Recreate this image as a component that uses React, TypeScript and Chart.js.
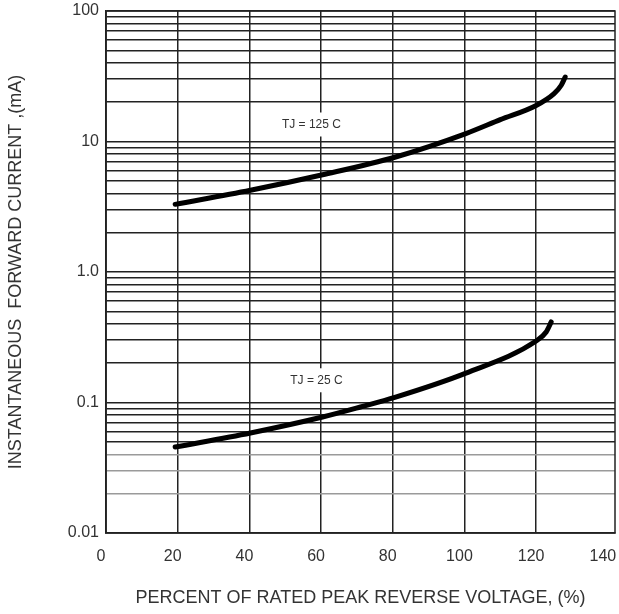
import React, { useEffect, useRef } from 'react';
import { Chart, registerables } from 'chart.js';

Chart.register(...registerables);

// ---- data ----
const xTickValues = [0, 20, 40, 60, 80, 100, 120, 140];
const yMajorValues = [0.01, 0.1, 1, 10, 100];
const yMajorLabels = ['0.01', '0.1', '1.0', '10', '100'];
const yMinorMultipliers = [2, 3, 4, 5, 6, 7, 8, 9];

// TJ = 125 C curve
const x125 = [19.3, 40.3, 60.4, 80.8, 100.4, 110, 120, 125, 127, 128.1];
const y125 = [3.3, 4.23, 5.56, 7.61, 11.5, 14.7, 18.9, 23.3, 27.0, 31.2];

// TJ = 25 C curve
const x25 = [19.3, 40.3, 60.4, 71, 80.8, 100.4, 120, 122.8, 124.2];
const y25 = [0.0456, 0.0584, 0.0774, 0.0924, 0.11, 0.168, 0.296, 0.347, 0.414];

const noteTexts = ['TJ = 125 C', 'TJ = 25 C'];
const noteX = [57.3, 58.7];
const noteY = [13.5, 0.148];

const xTitle = 'PERCENT OF RATED PEAK REVERSE VOLTAGE, (%)';
const yTitle = 'INSTANTANEOUS  FORWARD CURRENT ,(mA)';

const FONT = '"Liberation Sans", Arial, sans-serif';

const yGridValues: number[] = [];
yMajorValues.forEach((d, i) => {
  yGridValues.push(d);
  if (i < yMajorValues.length - 1) yMinorMultipliers.forEach((m) => yGridValues.push(d * m));
});

const framePlugin = {
  id: 'frameAndNotes',
  beforeDatasetsDraw(chart: any) {
    const { ctx, chartArea: a } = chart;
    ctx.save();
    ctx.strokeStyle = '#222';
    ctx.lineWidth = 1.5;
    ctx.strokeRect(a.left, a.top, a.right - a.left, a.bottom - a.top);
    ctx.restore();
  },
  afterDatasetsDraw(chart: any) {
    const { ctx } = chart;
    const xs = chart.scales.x;
    const ys = chart.scales.y;
    ctx.save();
    ctx.font = `12px ${FONT}`;
    ctx.textAlign = 'center';
    ctx.textBaseline = 'middle';
    noteTexts.forEach((t, i) => {
      const px = xs.getPixelForValue(noteX[i]);
      const py = ys.getPixelForValue(noteY[i]);
      const w = ctx.measureText(t).width + 10;
      ctx.fillStyle = '#fff';
      ctx.fillRect(px - w / 2, py - 12, w, 24);
      ctx.fillStyle = '#333';
      ctx.fillText(t, px, py);
    });
    ctx.restore();
  },
};

export default function App() {
  const ref = useRef<HTMLCanvasElement | null>(null);

  useEffect(() => {
    if (!ref.current) return;
    const chart = new Chart(ref.current, {
      type: 'line',
      data: {
        datasets: [
          {
            label: 'TJ = 125 C',
            data: x125.map((x, i) => ({ x, y: y125[i] })),
            borderColor: '#000',
            borderWidth: 5,
            pointRadius: 0,
            cubicInterpolationMode: 'monotone',
            borderCapStyle: 'round',
            borderJoinStyle: 'round',
            fill: false,
          },
          {
            label: 'TJ = 25 C',
            data: x25.map((x, i) => ({ x, y: y25[i] })),
            borderColor: '#000',
            borderWidth: 5,
            pointRadius: 0,
            cubicInterpolationMode: 'monotone',
            borderCapStyle: 'round',
            borderJoinStyle: 'round',
            fill: false,
          },
        ],
      },
      options: {
        animation: false,
        responsive: true,
        maintainAspectRatio: false,
        layout: { padding: { top: 11, right: 4, left: 0, bottom: 0 } },
        plugins: { legend: { display: false }, tooltip: { enabled: false } },
        scales: {
          x: {
            type: 'linear',
            min: 0,
            max: 142,
            afterBuildTicks: (s: any) => {
              s.ticks = xTickValues.map((v) => ({ value: v }));
            },
            afterFit: (s: any) => {
              s.height = 81;
              s.paddingLeft = 0;
              s.paddingRight = 0;
            },
            grid: {
              color: (c: any) => (c.tick && c.tick.value === 140 ? 'rgba(0,0,0,0)' : '#222'),
              lineWidth: 1.5,
              drawTicks: false,
            },
            border: { display: true, color: '#222', width: 1.5 },
            ticks: {
              padding: 14,
              labelOffset: -5,
              color: '#333',
              font: { family: FONT, size: 16 },
              maxRotation: 0,
              autoSkip: false,
              callback: (v: any) => String(v),
            },
            title: {
              display: true,
              text: xTitle,
              color: '#333',
              font: { family: FONT, size: 18 },
              padding: { top: 0, bottom: 5 },
            },
          },
          y: {
            type: 'logarithmic',
            min: 0.01,
            max: 100,
            afterBuildTicks: (s: any) => {
              s.ticks = yGridValues.map((v) => ({ value: v }));
            },
            afterFit: (s: any) => {
              s.width = 106;
              s.paddingTop = 0;
              s.paddingBottom = 0;
            },
            grid: {
              color: (c: any) => (c.tick && c.tick.value < 0.045 ? '#9a9a9a' : '#222'),
              lineWidth: 1.5,
              drawTicks: false,
            },
            border: { display: true, color: '#222', width: 1.5 },
            ticks: {
              padding: 7,
              color: '#333',
              font: { family: FONT, size: 16 },
              autoSkip: false,
              callback: (value: any) => {
                const i = yMajorValues.findIndex((m) => Math.abs(m - value) < m * 1e-6);
                return i >= 0 ? yMajorLabels[i] : '';
              },
            },
            title: {
              display: true,
              text: yTitle,
              color: '#333',
              font: { family: FONT, size: 18 },
              padding: { top: 5, bottom: 0 },
            },
          },
        },
      },
      plugins: [framePlugin],
    } as any);
    return () => chart.destroy();
  }, []);

  return (
    <div style={{ position: 'fixed', left: 0, top: 0, width: 619, height: 614, background: '#fff' }}>
      <canvas ref={ref} />
    </div>
  );
}
